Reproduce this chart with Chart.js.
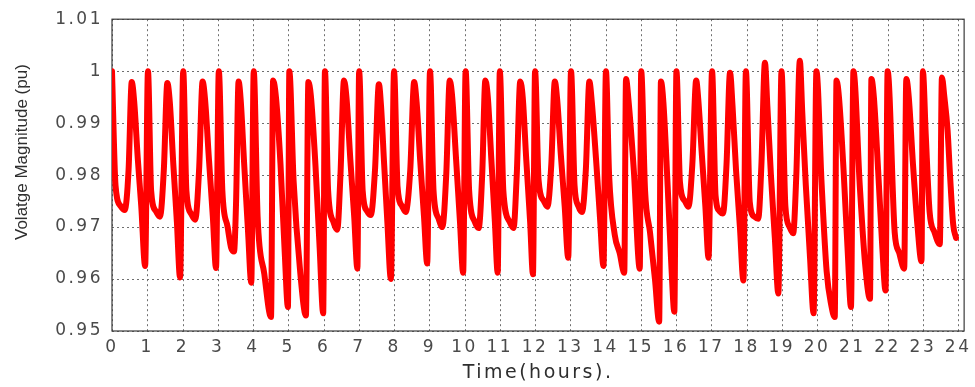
<!DOCTYPE html>
<html lang="en">
<head>
<meta charset="UTF-8" />
<title>Voltage magnitude over the day</title>
<script src="https://cdn.jsdelivr.net/npm/chart.js@4.4.1/dist/chart.umd.min.js"></script>
<style>
  html, body { margin: 0; padding: 0; background: #fff; }
  #wrap { position: relative; width: 975px; height: 387px; }
</style>
</head>
<body>
<div id="wrap"><canvas id="voltChart"></canvas></div>
<script>
// values, one line per hour
const timeHours = [
  0.00, 0.10, 0.25, 0.36, 0.47, 0.56, 0.63, 0.73, 0.83, 0.94,
  1.02, 1.11, 1.25, 1.36, 1.47, 1.57, 1.64, 1.74, 1.84, 1.93,
  2.02, 2.11, 2.25, 2.36, 2.47, 2.57, 2.64, 2.75, 2.86, 2.95,
  3.03, 3.13, 3.28, 3.38, 3.46, 3.52, 3.59, 3.65, 3.75, 3.86, 3.95,
  4.02, 4.13, 4.32, 4.51, 4.57, 4.65, 4.78, 4.90, 4.99,
  5.03, 5.15, 5.34, 5.50, 5.57, 5.64, 5.77, 5.89, 5.99,
  6.04, 6.13, 6.28, 6.39, 6.48, 6.58, 6.65, 6.76, 6.87, 6.96,
  7.01, 7.11, 7.24, 7.34, 7.46, 7.57, 7.63, 7.72, 7.81, 7.91,
  8.00, 8.10, 8.23, 8.33, 8.46, 8.57, 8.64, 8.74, 8.85, 8.94,
  9.02, 9.12, 9.27, 9.37, 9.48, 9.58, 9.65, 9.76, 9.87, 9.96,
  10.03, 10.13, 10.29, 10.40, 10.50, 10.59, 10.66, 10.76, 10.86, 10.94,
  11.00, 11.10, 11.28, 11.39, 11.48, 11.58, 11.65, 11.75, 11.86, 11.94,
  12.00, 12.10, 12.25, 12.35, 12.46, 12.56, 12.63, 12.73, 12.84, 12.94,
  13.02, 13.12, 13.23, 13.33, 13.44, 13.54, 13.61, 13.73, 13.84, 13.94,
  14.01, 14.10, 14.26, 14.40, 14.53, 14.58, 14.65, 14.80, 14.97,
  15.01, 15.12, 15.26, 15.40, 15.52, 15.57, 15.64, 15.76, 15.87, 15.95,
  16.01, 16.11, 16.25, 16.35, 16.46, 16.57, 16.63, 16.73, 16.83, 16.92,
  17.02, 17.12, 17.24, 17.33, 17.43, 17.53, 17.60, 17.70, 17.81, 17.91,
  17.98, 18.09, 18.22, 18.33, 18.42, 18.52, 18.59, 18.69, 18.80, 18.90,
  18.99, 19.10, 19.22, 19.32, 19.41, 19.51, 19.58, 19.68, 19.80, 19.90,
  19.98, 20.13, 20.27, 20.40, 20.50, 20.55, 20.62, 20.75, 20.87, 20.96,
  21.03, 21.21, 21.36, 21.50, 21.54, 21.61, 21.73, 21.85, 21.94,
  22.00, 22.20, 22.33, 22.47, 22.53, 22.60, 22.72, 22.85, 22.96,
  23.00, 23.08, 23.19, 23.33, 23.48, 23.54, 23.61, 23.70, 23.77, 23.86, 23.94
];
const voltagePu = [
  1.000, 0.978, 0.974, 0.9733, 0.981, 0.9979, 0.9941, 0.9833, 0.974, 0.9625,
  1.000, 0.977, 0.973, 0.972, 0.981, 0.9977, 0.994, 0.982, 0.971, 0.9603,
  1.000, 0.977, 0.9725, 0.9714, 0.981, 0.998, 0.9945, 0.983, 0.972, 0.9621,
  1.000, 0.977, 0.970, 0.966, 0.9653, 0.975, 0.998, 0.9945, 0.982, 0.969, 0.9593,
  1.000, 0.972, 0.961, 0.9527, 0.9982, 0.995, 0.982, 0.965, 0.9546,
  1.000, 0.979, 0.9612, 0.953, 0.9979, 0.9953, 0.982, 0.966, 0.9534,
  1.000, 0.977, 0.971, 0.9695, 0.980, 0.9982, 0.995, 0.983, 0.972, 0.962,
  1.000, 0.977, 0.973, 0.9723, 0.981, 0.9975, 0.9934, 0.982, 0.971, 0.960,
  1.000, 0.9777, 0.974, 0.9729, 0.981, 0.9979, 0.994, 0.983, 0.972, 0.963,
  1.000, 0.977, 0.9715, 0.970, 0.980, 0.9982, 0.995, 0.983, 0.971, 0.9612,
  1.000, 0.977, 0.971, 0.9698, 0.980, 0.9982, 0.995, 0.983, 0.971, 0.9612,
  1.000, 0.977, 0.971, 0.9698, 0.980, 0.998, 0.995, 0.983, 0.971, 0.9609,
  1.000, 0.979, 0.975, 0.9739, 0.982, 0.998, 0.9943, 0.984, 0.974, 0.9641,
  1.000, 0.978, 0.974, 0.9729, 0.981, 0.998, 0.994, 0.983, 0.972, 0.9625,
  1.000, 0.980, 0.9685, 0.965, 0.9612, 0.9985, 0.9944, 0.981, 0.962,
  1.000, 0.977, 0.969, 0.960, 0.9518, 0.998, 0.994, 0.978, 0.962, 0.9537,
  1.000, 0.9786, 0.975, 0.9739, 0.982, 0.9982, 0.9945, 0.984, 0.974, 0.9641,
  1.000, 0.976, 0.973, 0.9726, 0.982, 0.9997, 0.9934, 0.981, 0.970, 0.9597,
  1.000, 0.9748, 0.972, 0.9716, 0.982, 1.0016, 0.9931, 0.980, 0.968, 0.9572,
  1.000, 0.974, 0.970, 0.9688, 0.980, 1.002, 0.9919, 0.978, 0.964, 0.9534,
  1.000, 0.978, 0.9615, 0.955, 0.9527, 0.9982, 0.995, 0.981, 0.965, 0.9546,
  1.000, 0.978, 0.963, 0.9562, 0.9985, 0.995, 0.981, 0.966, 0.9578,
  1.000, 0.969, 0.965, 0.962, 0.9985, 0.995, 0.982, 0.970, 0.9634,
  1.000, 0.988, 0.973, 0.969, 0.9667, 0.9988, 0.995, 0.9887, 0.980, 0.9705, 0.9679
];

const xTicks = [0, 1, 2, 3, 4, 5, 6, 7, 8, 9, 10, 11, 12, 13, 14, 15, 16, 17, 18, 19, 20, 21, 22, 23, 24];
const yTicks = [0.95, 0.96, 0.97, 0.98, 0.99, 1.00, 1.01];
const xTitle = 'Time(hours).';
const yTitle = 'Volatge Magnitude (pu)';

const gridColor = '#6f6f6f';

// dotted grid + box round the plot + rotated y title (a bit above centre in the original)
const frameAndTitle = {
  id: 'frameAndTitle',
  beforeDraw(chart) {
    chart.ctx.letterSpacing = '2.5px';
  },
  beforeDatasetsDraw(chart) {
    const { ctx, chartArea: a, scales } = chart;
    ctx.save();
    ctx.strokeStyle = gridColor;
    ctx.lineWidth = 1;
    ctx.setLineDash([2, 3]);
    xTicks.forEach(v => {
      const px = Math.round(scales.x.getPixelForValue(v)) + 0.5;
      ctx.beginPath();
      ctx.moveTo(px, a.top);
      ctx.lineTo(px, a.bottom);
      ctx.stroke();
    });
    yTicks.forEach(v => {
      const py = Math.round(scales.y.getPixelForValue(v)) + 0.5;
      ctx.beginPath();
      ctx.moveTo(a.left, py);
      ctx.lineTo(a.right, py);
      ctx.stroke();
    });
    ctx.setLineDash([]);
    ctx.strokeStyle = '#3a3a3a';
    ctx.lineWidth = 1.2;
    ctx.strokeRect(a.left, a.top, a.right - a.left, a.bottom - a.top);
    ctx.restore();
  },
  afterDraw(chart) {
    const { ctx, chartArea: a } = chart;
    ctx.save();
    ctx.letterSpacing = '0px';
    ctx.translate(22, (a.top + a.bottom) / 2 - 23);
    ctx.rotate(-Math.PI / 2);
    ctx.font = '17px "Liberation Sans", Arial, sans-serif';
    ctx.fillStyle = '#2e2e2e';
    ctx.textAlign = 'center';
    ctx.textBaseline = 'middle';
    ctx.fillText(yTitle, 0, 0);
    ctx.restore();
  }
};

const tickFont = { family: '"DejaVu Sans", sans-serif', size: 17 };

new Chart(document.getElementById('voltChart'), {
  type: 'line',
  data: {
    datasets: [{
      data: timeHours.map((t, i) => ({ x: t, y: voltagePu[i] })),
      borderColor: '#ff0000',
      borderWidth: 6,
      pointRadius: 0,
      cubicInterpolationMode: 'monotone',
      borderJoinStyle: 'round',
      borderCapStyle: 'round'
    }]
  },
  options: {
    responsive: true,
    maintainAspectRatio: false,
    devicePixelRatio: 1,
    animation: false,
    layout: { padding: { left: 0, right: 7, top: 14, bottom: 0 } },
    plugins: { legend: { display: false }, tooltip: { enabled: false } },
    scales: {
      x: {
        type: 'linear',
        min: 0,
        max: 24.17,
        afterBuildTicks: s => { s.ticks = xTicks.map(v => ({ value: v })); },
        afterFit: s => { s.height = 56; },
        grid: { display: false, drawTicks: false },
        border: { display: false },
        ticks: { font: tickFont, color: '#4a4a4a', padding: 6, autoSkip: false, maxRotation: 0 },
        title: {
          display: true,
          text: xTitle,
          font: { family: '"DejaVu Sans", sans-serif', size: 19 },
          color: '#2e2e2e',
          padding: { top: 0, bottom: 3 }
        }
      },
      y: {
        min: 0.95,
        max: 1.01,
        afterBuildTicks: s => { s.ticks = yTicks.map(v => ({ value: v })); },
        afterFit: s => { s.width = 112; },
        grid: { display: false, drawTicks: false },
        border: { display: false },
        ticks: {
          font: tickFont,
          color: '#4a4a4a',
          padding: 9,
          callback: v => String(Number(v.toFixed(2)))
        }
      }
    }
  },
  plugins: [frameAndTitle]
});
</script>
</body>
</html>
